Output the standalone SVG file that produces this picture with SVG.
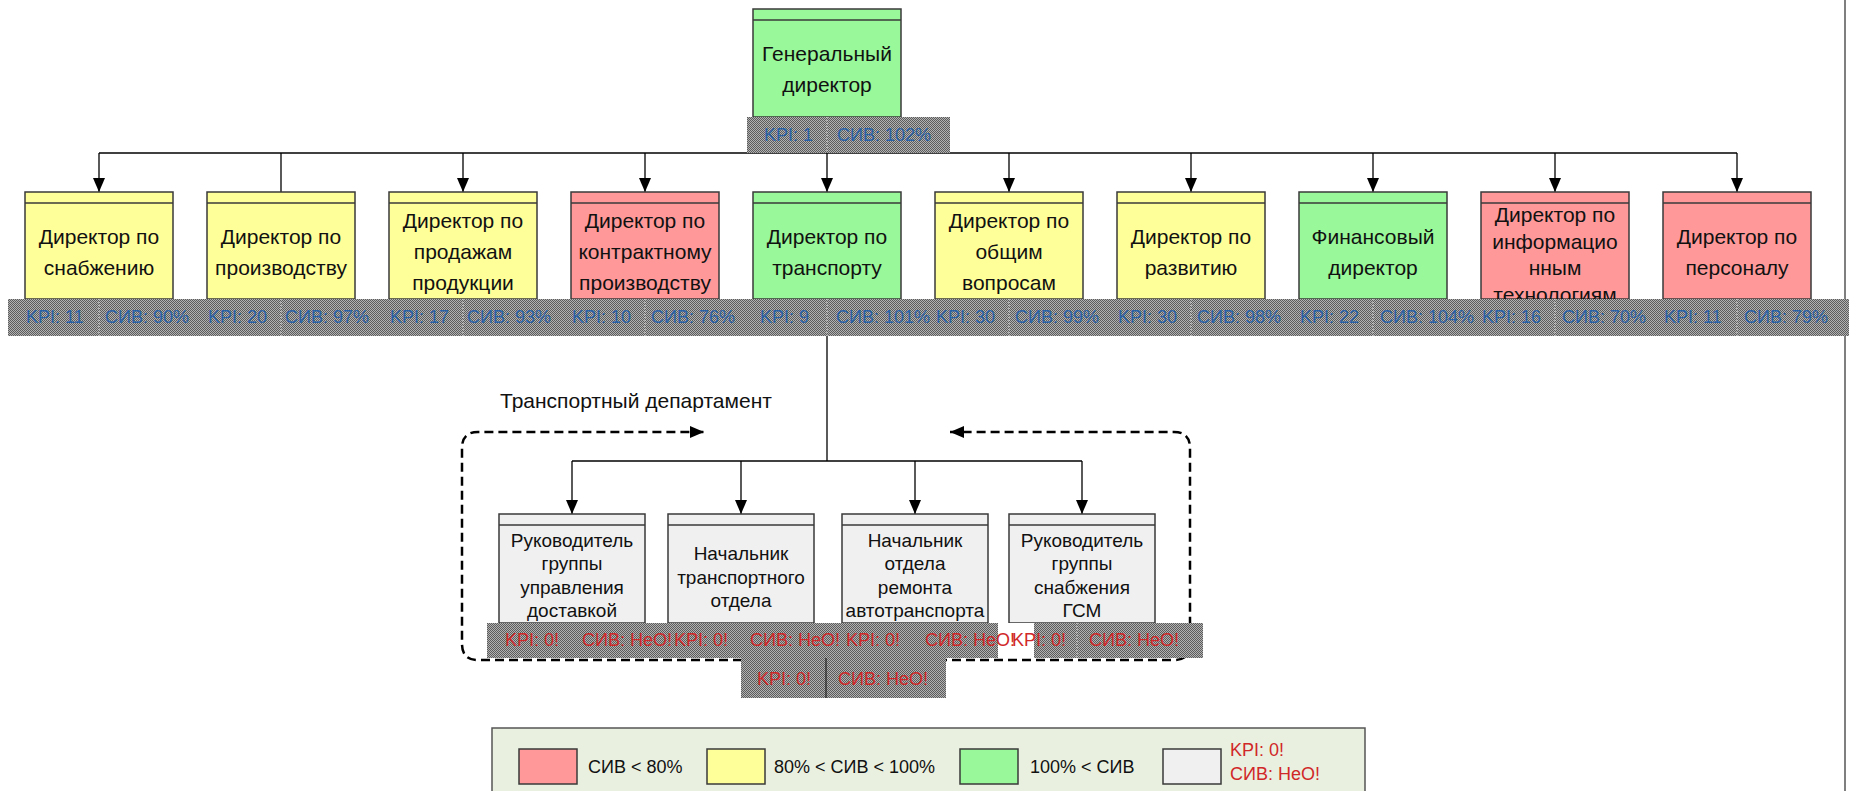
<svg xmlns="http://www.w3.org/2000/svg" width="1849" height="791" viewBox="0 0 1849 791">
<defs>
<pattern id="dither" width="2" height="2" patternUnits="userSpaceOnUse">
<rect width="2" height="2" fill="#b2b2b2"/>
<rect width="1" height="1" fill="#5c5c5c"/>
<rect x="1" y="1" width="1" height="1" fill="#5c5c5c"/>
</pattern>
<marker id="arr" markerUnits="userSpaceOnUse" markerWidth="14" markerHeight="14" refX="14" refY="7" orient="auto">
<path d="M0,1 L14,7 L0,13 Z" fill="#000"/>
</marker>
</defs>
<style>
.box{stroke:#3a3a3a;stroke-width:1.5}
.hdr{fill:none;stroke:#3a3a3a;stroke-width:1.5}
.y{fill:#ffff99}.r{fill:#ff9999}.g{fill:#99f899}.w{fill:#f0f0f0}
.t{font-family:"Liberation Sans",Arial,sans-serif;font-size:21px;fill:#111;text-anchor:middle}
.ts{font-family:"Liberation Sans",Arial,sans-serif;font-size:19px;fill:#111;text-anchor:middle}
.bar{fill:url(#dither)}
.bt{font-family:"Liberation Sans",Arial,sans-serif;font-size:18px;fill:#2a62a8}
.rt{font-family:"Liberation Sans",Arial,sans-serif;font-size:18px;fill:#d02828}
.lt{font-family:"Liberation Sans",Arial,sans-serif;font-size:18px;fill:#111}
.lr{font-family:"Liberation Sans",Arial,sans-serif;font-size:18px;fill:#d02828}
.div{stroke:#e6e6e6;stroke-width:1;stroke-dasharray:1 2}
.conn{stroke:#000;stroke-width:1.3;fill:none}
.dash{stroke:#000;stroke-width:2.5;fill:none;stroke-dasharray:9 5}
</style>

<line x1="1845" y1="0" x2="1845" y2="791" stroke="#555" stroke-width="1.5"/>

<g id="connectors">
<line class="conn" x1="99" y1="153" x2="1737" y2="153"/>
<line class="conn" x1="99" y1="153" x2="99" y2="192" marker-end="url(#arr)"/>
<line class="conn" x1="281" y1="153" x2="281" y2="192"/>
<line class="conn" x1="463" y1="153" x2="463" y2="192" marker-end="url(#arr)"/>
<line class="conn" x1="645" y1="153" x2="645" y2="192" marker-end="url(#arr)"/>
<line class="conn" x1="827" y1="153" x2="827" y2="192" marker-end="url(#arr)"/>
<line class="conn" x1="1009" y1="153" x2="1009" y2="192" marker-end="url(#arr)"/>
<line class="conn" x1="1191" y1="153" x2="1191" y2="192" marker-end="url(#arr)"/>
<line class="conn" x1="1373" y1="153" x2="1373" y2="192" marker-end="url(#arr)"/>
<line class="conn" x1="1555" y1="153" x2="1555" y2="192" marker-end="url(#arr)"/>
<line class="conn" x1="1737" y1="153" x2="1737" y2="192" marker-end="url(#arr)"/>
<line class="conn" x1="827" y1="336" x2="827" y2="461"/>
<line class="conn" x1="572" y1="461" x2="1082" y2="461"/>
<line class="conn" x1="572" y1="461" x2="572" y2="514" marker-end="url(#arr)"/>
<line class="conn" x1="741" y1="461" x2="741" y2="514" marker-end="url(#arr)"/>
<line class="conn" x1="915" y1="461" x2="915" y2="514" marker-end="url(#arr)"/>
<line class="conn" x1="1082" y1="461" x2="1082" y2="514" marker-end="url(#arr)"/>
<path class="dash" d="M826,660 H478 Q462,660 462,644 V448 Q462,432 478,432 H704" marker-end="url(#arr)"/>
<path class="dash" d="M826,660 H1174 Q1190,660 1190,644 V448 Q1190,432 1174,432 H950" marker-end="url(#arr)"/>
</g>

<g id="gen">
<rect class="box g" x="753" y="9" width="148" height="108"/>
<line class="hdr" x1="753" y1="20" x2="901" y2="20"/>
<text class="t" x="827" y="61">Генеральный</text>
<text class="t" x="827" y="92">директор</text>
<rect class="bar" x="747" y="117" width="203" height="36"/>
<line class="div" x1="827" y1="117" x2="827" y2="153"/>
<text class="bt" x="764" y="141">KPI: 1</text>
<text class="bt" x="837" y="141">СИВ: 102%</text>
</g>

<g id="d1"><rect class="box y" x="25" y="192" width="148" height="107"/><line class="hdr" x1="25" y1="203" x2="173" y2="203"/><text class="t" x="99" y="244">Директор по</text><text class="t" x="99" y="275">снабжению</text></g>
<g id="d2"><rect class="box y" x="207" y="192" width="148" height="107"/><line class="hdr" x1="207" y1="203" x2="355" y2="203"/><text class="t" x="281" y="244">Директор по</text><text class="t" x="281" y="275">производству</text></g>
<g id="d3"><rect class="box y" x="389" y="192" width="148" height="107"/><line class="hdr" x1="389" y1="203" x2="537" y2="203"/><text class="t" x="463" y="228">Директор по</text><text class="t" x="463" y="259">продажам</text><text class="t" x="463" y="290">продукции</text></g>
<g id="d4"><rect class="box r" x="571" y="192" width="148" height="107"/><line class="hdr" x1="571" y1="203" x2="719" y2="203"/><text class="t" x="645" y="228">Директор по</text><text class="t" x="645" y="259">контрактному</text><text class="t" x="645" y="290">производству</text></g>
<g id="d5"><rect class="box g" x="753" y="192" width="148" height="107"/><line class="hdr" x1="753" y1="203" x2="901" y2="203"/><text class="t" x="827" y="244">Директор по</text><text class="t" x="827" y="275">транспорту</text></g>
<g id="d6"><rect class="box y" x="935" y="192" width="148" height="107"/><line class="hdr" x1="935" y1="203" x2="1083" y2="203"/><text class="t" x="1009" y="228">Директор по</text><text class="t" x="1009" y="259">общим</text><text class="t" x="1009" y="290">вопросам</text></g>
<g id="d7"><rect class="box y" x="1117" y="192" width="148" height="107"/><line class="hdr" x1="1117" y1="203" x2="1265" y2="203"/><text class="t" x="1191" y="244">Директор по</text><text class="t" x="1191" y="275">развитию</text></g>
<g id="d8"><rect class="box g" x="1299" y="192" width="148" height="107"/><line class="hdr" x1="1299" y1="203" x2="1447" y2="203"/><text class="t" x="1373" y="244">Финансовый</text><text class="t" x="1373" y="275">директор</text></g>
<g id="d9"><rect class="box r" x="1481" y="192" width="148" height="107"/><line class="hdr" x1="1481" y1="203" x2="1629" y2="203"/><text class="t" x="1555" y="222">Директор по</text><text class="t" x="1555" y="249">информацио</text><text class="t" x="1555" y="275">нным</text><text class="t" x="1555" y="302">технологиям</text></g>
<g id="d10"><rect class="box r" x="1663" y="192" width="148" height="107"/><line class="hdr" x1="1663" y1="203" x2="1811" y2="203"/><text class="t" x="1737" y="244">Директор по</text><text class="t" x="1737" y="275">персоналу</text></g>

<g id="kpi-row">
<rect class="bar" x="8" y="299" width="1841" height="37"/>
<line class="div" x1="99" y1="299" x2="99" y2="336"/>
<line class="div" x1="281" y1="299" x2="281" y2="336"/>
<line class="div" x1="463" y1="299" x2="463" y2="336"/>
<line class="div" x1="645" y1="299" x2="645" y2="336"/>
<line class="div" x1="827" y1="299" x2="827" y2="336"/>
<line class="div" x1="1009" y1="299" x2="1009" y2="336"/>
<line class="div" x1="1191" y1="299" x2="1191" y2="336"/>
<line class="div" x1="1373" y1="299" x2="1373" y2="336"/>
<line class="div" x1="1555" y1="299" x2="1555" y2="336"/>
<line class="div" x1="1737" y1="299" x2="1737" y2="336"/>
<text class="bt" x="26" y="323">KPI: 11</text><text class="bt" x="105" y="323">СИВ: 90%</text>
<text class="bt" x="208" y="323">KPI: 20</text><text class="bt" x="285" y="323">СИВ: 97%</text>
<text class="bt" x="390" y="323">KPI: 17</text><text class="bt" x="467" y="323">СИВ: 93%</text>
<text class="bt" x="572" y="323">KPI: 10</text><text class="bt" x="651" y="323">СИВ: 76%</text>
<text class="bt" x="760" y="323">KPI: 9</text><text class="bt" x="836" y="323">СИВ: 101%</text>
<text class="bt" x="936" y="323">KPI: 30</text><text class="bt" x="1015" y="323">СИВ: 99%</text>
<text class="bt" x="1118" y="323">KPI: 30</text><text class="bt" x="1197" y="323">СИВ: 98%</text>
<text class="bt" x="1300" y="323">KPI: 22</text><text class="bt" x="1380" y="323">СИВ: 104%</text>
<text class="bt" x="1482" y="323">KPI: 16</text><text class="bt" x="1562" y="323">СИВ: 70%</text>
<text class="bt" x="1664" y="323">KPI: 11</text><text class="bt" x="1744" y="323">СИВ: 79%</text>
</g>

<text id="dept-label" x="500" y="408" font-family="Liberation Sans, Arial, sans-serif" font-size="21" fill="#111">Транспортный департамент</text>

<g id="s1"><rect class="box w" x="499" y="514" width="146" height="109"/><line class="hdr" x1="499" y1="525" x2="645" y2="525"/><text class="ts" x="572" y="547">Руководитель</text><text class="ts" x="572" y="570">группы</text><text class="ts" x="572" y="594">управления</text><text class="ts" x="572" y="617">доставкой</text></g>
<g id="s2"><rect class="box w" x="668" y="514" width="146" height="109"/><line class="hdr" x1="668" y1="525" x2="814" y2="525"/><text class="ts" x="741" y="560">Начальник</text><text class="ts" x="741" y="584">транспортного</text><text class="ts" x="741" y="607">отдела</text></g>
<g id="s3"><rect class="box w" x="842" y="514" width="146" height="109"/><line class="hdr" x1="842" y1="525" x2="988" y2="525"/><text class="ts" x="915" y="547">Начальник</text><text class="ts" x="915" y="570">отдела</text><text class="ts" x="915" y="594">ремонта</text><text class="ts" x="915" y="617">автотранспорта</text></g>
<g id="s4"><rect class="box w" x="1009" y="514" width="146" height="109"/><line class="hdr" x1="1009" y1="525" x2="1155" y2="525"/><text class="ts" x="1082" y="547">Руководитель</text><text class="ts" x="1082" y="570">группы</text><text class="ts" x="1082" y="594">снабжения</text><text class="ts" x="1082" y="617">ГСМ</text></g>

<g id="sub-kpi">
<rect class="bar" x="487" y="623" width="716" height="35"/>
<rect x="998" y="623" width="36" height="35" fill="#fff"/>
<line class="div" x1="1077" y1="623" x2="1077" y2="658"/>
<text class="rt" x="505" y="646">KPI: 0!</text><text class="rt" x="582" y="646">СИВ: НеО!</text>
<text class="rt" x="674" y="646">KPI: 0!</text><text class="rt" x="750" y="646">СИВ: НеО!</text>
<text class="rt" x="846" y="646">KPI: 0!</text><text class="rt" x="925" y="646">СИВ: НеО!</text>
<text class="rt" x="1012" y="646">KPI: 0!</text><text class="rt" x="1089" y="646">СИВ: НеО!</text>
</g>

<g id="dept-kpi">
<rect class="bar" x="741" y="658" width="205" height="40"/>
<line x1="826" y1="658" x2="826" y2="698" stroke="#222" stroke-width="1.2"/>
<text class="rt" x="757" y="685">KPI: 0!</text>
<text class="rt" x="838" y="685">СИВ: НеО!</text>
</g>

<g id="legend">
<rect x="492" y="728" width="873" height="80" fill="#eaf0e0" stroke="#555" stroke-width="1.5"/>
<rect class="box r" x="519" y="749" width="58" height="35"/>
<text class="lt" x="588" y="773">СИВ &lt; 80%</text>
<rect class="box y" x="707" y="749" width="58" height="35"/>
<text class="lt" x="774" y="773">80% &lt; СИВ &lt; 100%</text>
<rect class="box g" x="960" y="749" width="58" height="35"/>
<text class="lt" x="1030" y="773">100% &lt; СИВ</text>
<rect class="box w" x="1163" y="749" width="58" height="35"/>
<text class="lr" x="1230" y="756">KPI: 0!</text>
<text class="lr" x="1230" y="780">СИВ: НеО!</text>
</g>
</svg>
